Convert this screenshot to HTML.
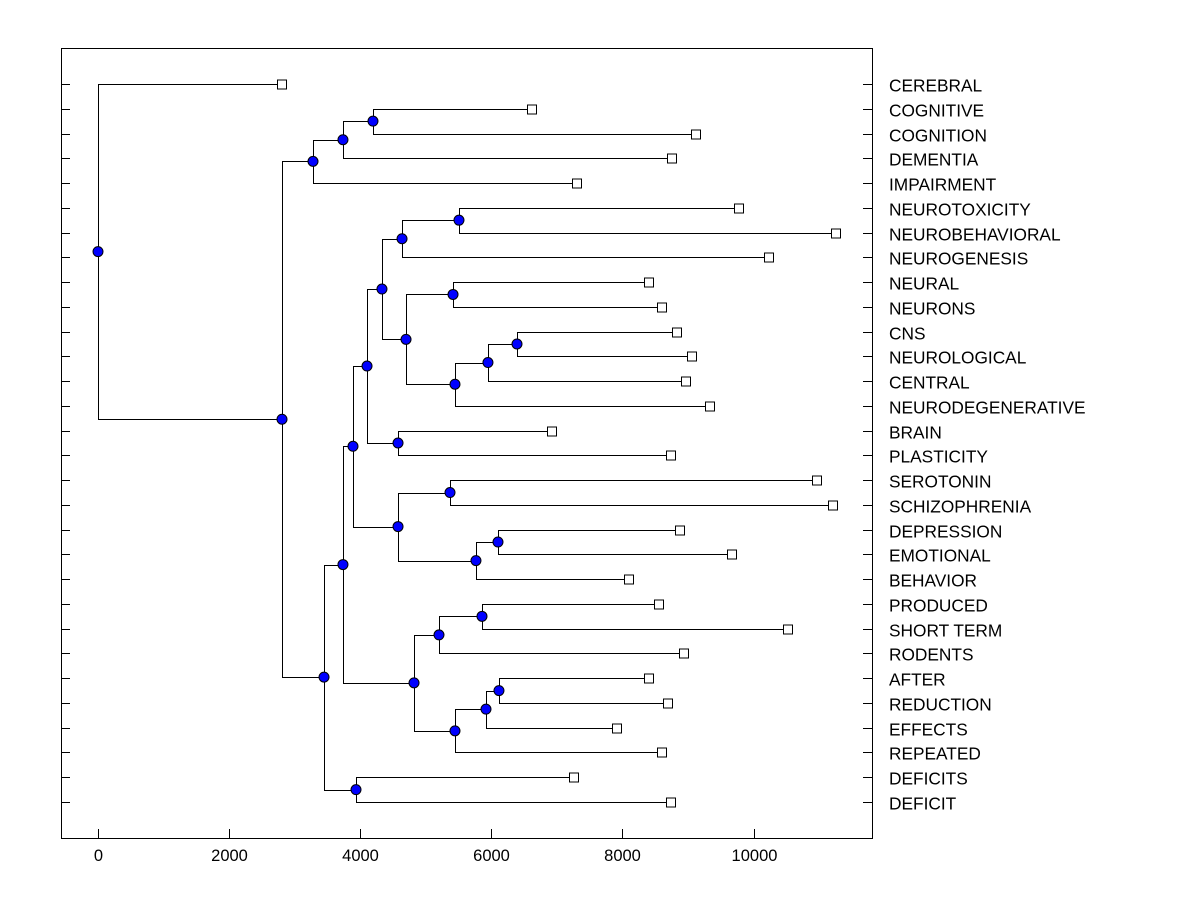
<!DOCTYPE html>
<html><head><meta charset="utf-8"><style>
body{margin:0;background:#fff;}
svg{display:block;font-family:"Liberation Sans",Arial,sans-serif;}
</style></head><body>
<svg id="chart" width="1200" height="900" viewBox="0 0 1200 900" xmlns="http://www.w3.org/2000/svg">
<rect x="0" y="0" width="1200" height="900" fill="#fff"/>
<g id="marks"></g>
</svg>
<script>
const leafNames = ["CEREBRAL","COGNITIVE","COGNITION","DEMENTIA","IMPAIRMENT","NEUROTOXICITY","NEUROBEHAVIORAL","NEUROGENESIS","NEURAL","NEURONS","CNS","NEUROLOGICAL","CENTRAL","NEURODEGENERATIVE","BRAIN","PLASTICITY","SEROTONIN","SCHIZOPHRENIA","DEPRESSION","EMOTIONAL","BEHAVIOR","PRODUCED","SHORT TERM","RODENTS","AFTER","REDUCTION","EFFECTS","REPEATED","DEFICITS","DEFICIT"];
const leafValues = [2807,6621,9123,8756,7307,9779,11258,10236,8406,8604,8833,9062,8970,9336,6926,8741,10968,11212,8878,9672,8100,8558,10526,8939,8406,8695,7917,8604,7261,8741];
const mergeLeft = ["COGNITIVE","E","D","NEUROTOXICITY","P","NEURAL","CNS","T","S","Q","N","BRAIN","L","SEROTONIN","DEPRESSION","W","U","J","PRODUCED","Z","AFTER","AB","AA","X","H","DEFICITS","F","B","CEREBRAL"];
const mergeRight = ["COGNITION","DEMENTIA","IMPAIRMENT","NEUROBEHAVIORAL","NEUROGENESIS","NEURONS","NEUROLOGICAL","CENTRAL","NEURODEGENERATIVE","R","O","PLASTICITY","M","SCHIZOPHRENIA","EMOTIONAL","BEHAVIOR","V","K","SHORT TERM","RODENTS","REDUCTION","EFFECTS","REPEATED","Y","I","DEFICIT","G","C","A"];
const mergeHeights = [4195,3737,3280,5507,4638,5416,6392,5949,5446,4699,4332,4577,4104,5370,6102,5766,4577,3890,5858,5202,6117,5919,5446,4821,3737,3936,3448,2807,0];
const mergeIds = ["E","D","B","P","N","Q","T","S","R","O","L","M","J","U","W","V","K","H","Z","X","AB","AA","Y","I","F","G","C","A","ROOT"];
const xTicks = [0,2000,4000,6000,8000,10000];

const NS="http://www.w3.org/2000/svg";
const g=document.getElementById('marks');
const L=61,R=872,T=48,B=838;
const xs=v=>98+v*0.06555;
const ys=i=>84+i*24.759;
function el(tag,attrs){const e=document.createElementNS(NS,tag);for(const k in attrs)e.setAttribute(k,attrs[k]);g.appendChild(e);return e;}

let fr=el('rect',{x:L+0.5,y:T+0.5,width:R-L,height:B-T,fill:'none',stroke:'#000','stroke-width':1});



leafNames.forEach((n,i)=>{
  const y=Math.round(ys(i))+0.5;
  let t1=el('line',{x1:L,y1:y,x2:L+9,y2:y,stroke:'#000'});
  
  
  let t2=el('line',{x1:R-9,y1:y,x2:R,y2:y,stroke:'#000'});
  
  
  let tx=el('text',{x:889,y:y+7,'font-size':17.3,fill:'#000'});
  tx.textContent=n;
  
  
});
xTicks.forEach(v=>{
  const x=Math.round(xs(v))+0.5;
  let t=el('line',{x1:x,y1:B-9,x2:x,y2:B,stroke:'#000'});
  
  
  let tx=el('text',{x:x,y:861,'font-size':16.5,'text-anchor':'middle',fill:'#000'});
  tx.textContent=String(v);
  
  
});

const nodes={};
leafNames.forEach((n,i)=>{nodes[n]={x:xs(leafValues[i]),y:ys(i),leaf:true};});
const circles=[];
mergeIds.forEach((id,k)=>{
  const a=nodes[mergeLeft[k]],b=nodes[mergeRight[k]];
  const x=xs(mergeHeights[k]);
  const y=(a.y+b.y)/2;
  nodes[id]={x:x,y:y,leaf:false};
  const p=el('path',{d:`M${a.x} ${Math.round(a.y)+0.5}H${Math.round(x)+0.5}V${Math.round(b.y)+0.5}H${b.x}`,fill:'none',stroke:'#000','stroke-width':1});
  
  
  circles.push([x,y]);
});
leafNames.forEach((n,i)=>{
  const nd=nodes[n];
  const s=el('rect',{x:Math.round(nd.x)-4.5,y:Math.round(nd.y)-4,width:9,height:9,fill:'#fff',stroke:'#000'});
  
  
});
circles.forEach(([x,y])=>{
  const c=el('circle',{cx:x,cy:y,r:5,fill:'#0000ff',stroke:'#000','stroke-width':1});
  
  
});
</script>
</body></html>
